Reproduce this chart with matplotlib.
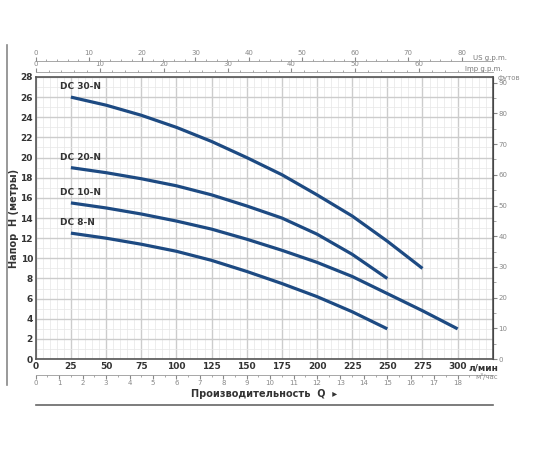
import matplotlib
matplotlib.use("Agg")
import matplotlib.pyplot as plt
from matplotlib.lines import Line2D
import numpy as np

models = ["DC 30-N", "DC 20-N", "DC 10-N", "DC 8-N"]
q30 = [25, 50, 75, 100, 125, 150, 175, 200, 225, 250, 275]
h30 = [26, 25.2, 24.2, 23, 21.6, 20, 18.3, 16.3, 14.2, 11.7, 9]
q20 = [25, 50, 75, 100, 125, 150, 175, 200, 225, 250]
h20 = [19, 18.5, 17.9, 17.2, 16.3, 15.2, 14, 12.4, 10.4, 8]
q10 = [25, 50, 75, 100, 125, 150, 175, 200, 225, 250, 275, 300]
h10 = [15.5, 15, 14.4, 13.7, 12.9, 11.9, 10.8, 9.6, 8.2, 6.5, 4.8, 3]
q8 = [25, 50, 75, 100, 125, 150, 175, 200, 225, 250]
h8 = [12.5, 12, 11.4, 10.7, 9.8, 8.7, 7.5, 6.2, 4.7, 3]

fig = plt.figure(figsize=(5.5, 4.5), dpi=100)
ax = fig.add_axes([0.065, 0.202, 0.831, 0.627])
ax.set_xlim(0, 325)
ax.set_ylim(0, 28)
ax.set_xticks(np.arange(0, 301, 25))
ax.set_xticks(np.arange(0, 326, 5), minor=True)
ax.set_yticks(np.arange(0, 29, 2))
ax.set_yticks(np.arange(0, 28.1, 1), minor=True)
ax.grid(which="major", color="#cccccc", lw=1.0)
ax.grid(which="minor", color="#e6e6e6", lw=0.5)
ax.set_axisbelow(True)
for s in ax.spines.values():
    s.set_color("#555555"); s.set_linewidth(1.2)
ax.tick_params(which="both", length=0, labelsize=6.5, pad=2)
for t in ax.get_xticklabels() + ax.get_yticklabels():
    t.set_fontweight("bold"); t.set_color("#333333")

col = "#1d4a82"
for name, q, h in zip(models, [q30, q20, q10, q8], [h30, h20, h10, h8]):
    ax.plot(q, h, color=col, lw=2.3, solid_capstyle="butt", solid_joinstyle="round")
    ax.text(q[0] - 8, h[0] + 0.6, name, fontsize=6.5, fontweight="bold", color="#333333", va="bottom")

ax.text(308, -0.4, "л/мин", fontsize=6.5, fontweight="bold", color="#333333", va="top")

s1 = ax.secondary_xaxis(1.017, functions=(lambda x: x / 4.546, lambda x: x * 4.546))
s1.set_xticks(np.arange(0, 61, 10)); s1.set_xticks(np.arange(0, 71, 2), minor=True)
s2 = ax.secondary_xaxis(1.055, functions=(lambda x: x / 3.785, lambda x: x * 3.785))
s2.set_xticks(np.arange(0, 81, 10)); s2.set_xticks(np.arange(0, 81, 2), minor=True)
s3 = ax.secondary_xaxis(-0.055, functions=(lambda x: x / 16.667, lambda x: x * 16.667))
s3.set_xticks(np.arange(0, 19, 1)); s3.set_xticks(np.arange(0, 19, 0.5), minor=True)
for s in (s1, s2, s3):
    for sp in s.spines.values():
        sp.set_color("#999999"); sp.set_linewidth(0.6)
    s.tick_params(which="major", length=3, labelsize=5, colors="#888888", pad=1)
    s.tick_params(which="minor", length=1.5, colors="#999999")
fig.text(0.845, 0.842, "Imp g.p.m.", fontsize=5, color="#777777", ha="left")
fig.text(0.86, 0.866, "US g.p.m.", fontsize=5, color="#777777", ha="left")
fig.text(0.865, 0.158, "м³/час", fontsize=5, color="#888888")

s4 = ax.secondary_yaxis("right", functions=(lambda y: y * 3.281, lambda y: y / 3.281))
s4.set_yticks(np.arange(0, 91, 10)); s4.set_yticks(np.arange(0, 92, 5), minor=True)
s4.tick_params(which="major", length=3, labelsize=5, colors="#888888", pad=1)
s4.tick_params(which="minor", length=2, colors="#999999")
fig.text(0.905, 0.822, "футов", fontsize=5, color="#888888")

fig.text(0.025, 0.515, "Напор  H (метры)", rotation=90, fontsize=7, fontweight="bold",
         color="#333333", ha="center", va="center")
fig.text(0.48, 0.125, "Производительность  Q  ▸", fontsize=7, fontweight="bold",
         color="#333333", ha="center", va="center")
fig.add_artist(Line2D([0.013, 0.013], [0.145, 0.9], color="#888888", lw=1.2))
fig.add_artist(Line2D([0.065, 0.896], [0.1, 0.1], color="#666666", lw=1.2))

fig.savefig("out.png", dpi=100)
